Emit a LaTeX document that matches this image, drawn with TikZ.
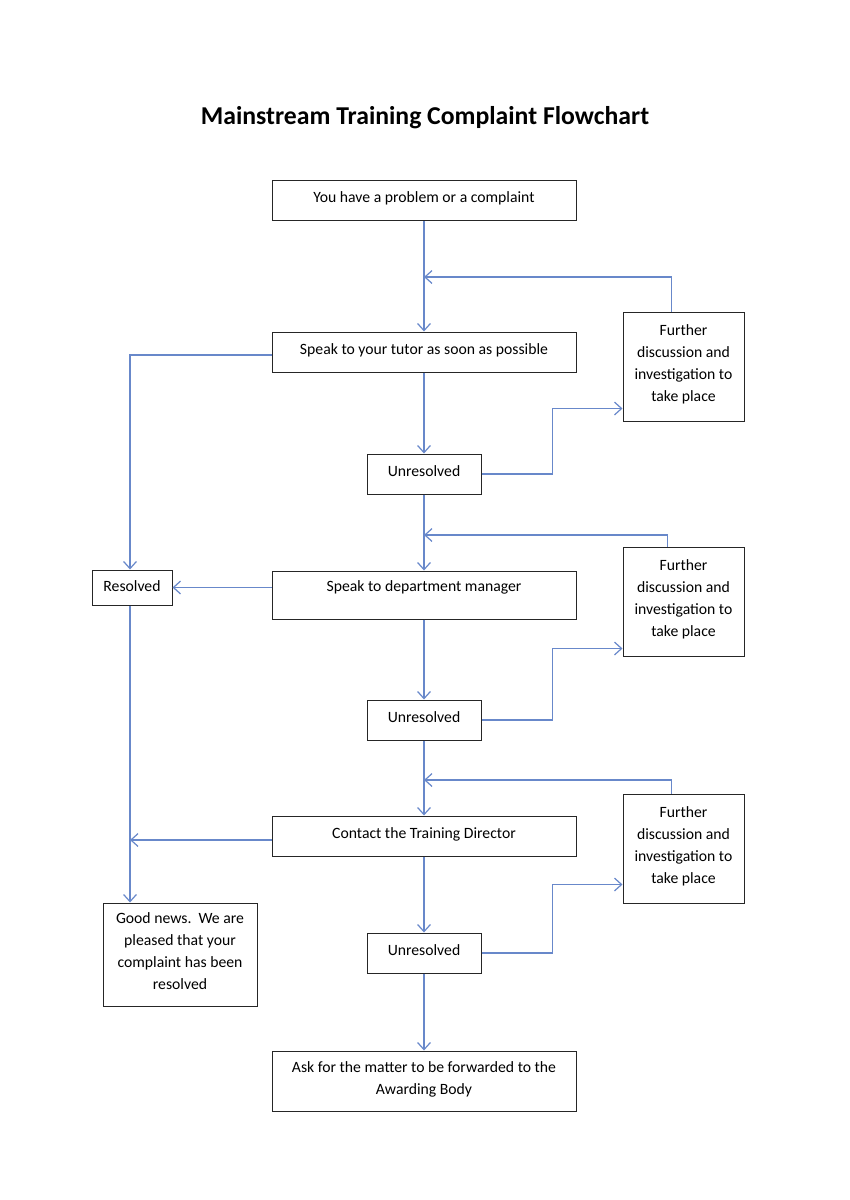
\documentclass[tikz,border=0pt]{standalone}
\usepackage{fontspec}
\setmainfont{Carlito}
\usetikzlibrary{arrows.meta}
\usetikzlibrary{positioning}
\definecolor{flowblue}{RGB}{104,136,202}
\tikzset{box/.style = {draw = black!85, line width = 0.7pt, align = center, inner sep = 0, text depth = 4.5pt, font = \fontsize{11}{15.4}\selectfont}}
\tikzset{wide/.style = {box, minimum width = 212.8pt, minimum height = 28pt}}
\tikzset{small/.style = {box, minimum width = 79.8pt, minimum height = 28pt}}
\tikzset{further/.style = {box, minimum width = 84.7pt, minimum height = 76.3pt}}
\tikzset{link/.style = {draw = flowblue, line width = 0.85pt, -{Straight Barb[length = 5pt, width = 9pt]}}}

\begin{document}
\begin{tikzpicture}[x = 0.7pt, y = -0.7pt]
    \useasboundingbox (0, 0) rectangle (849, 1200);
    \node (title) at (425, 118) {\fontsize{18}{21}\selectfont\bfseries Mainstream Training Complaint Flowchart};

    % main column
    \node [wide] (start) at (424, 200.5) {You have a problem or a complaint};
    \node [wide] (tutor) at (424, 352) {Speak to your tutor as soon as possible};
    \node [small] (unres1) at (424, 474) {Unresolved};
    \node [wide, minimum height = 33.6pt, text depth = 13pt] (dept) at (424, 595) {Speak to department manager};
    \node [small] (unres2) at (424, 720) {Unresolved};
    \node [wide] (director) at (424, 836) {Contact the Training Director};
    \node [small] (unres3) at (424, 953) {Unresolved};
    \node [wide, minimum height = 42pt] (awarding) at (424, 1081) {Ask for the matter to be forwarded to the\\Awarding Body};

    % right column
    \node [further] (further1) at (683.5, 366.5) {Further\\discussion and\\investigation to\\take place};
    \node [further] (further2) at (683.5, 601.5) {Further\\discussion and\\investigation to\\take place};
    \node [further] (further3) at (683.5, 848.5) {Further\\discussion and\\investigation to\\take place};

    % left column
    \node [box, minimum width = 56pt, minimum height = 24.5pt, text depth = 1.5pt] (resolved) at (132, 587.5) {Resolved};
    \node [box, minimum width = 107.8pt, minimum height = 72.1pt] (goodnews) at (180, 954.5) {Good news.\ \ We are\\pleased that your\\complaint has been\\resolved};

    \coordinate (back1) at (424, 277);
    \coordinate (back2) at (424, 535);
    \coordinate (back3) at (424, 780);

    % down the middle
    \draw [link] (start) -- (tutor);
    \draw [link] (tutor) -- (unres1);
    \draw [link] (unres1) -- (dept);
    \draw [link] (dept) -- (unres2);
    \draw [link] (unres2) -- (director);
    \draw [link] (director) -- (unres3);
    \draw [link] (unres3) -- (awarding);

    % out to further discussion and back
    \draw [link] (unres1.east) -- ++(71, 0) |- ([yshift = 9.1pt] further1.south west);
    \draw [link] (unres2.east) -- ++(71, 0) |- ([yshift = 5.6pt] further2.south west);
    \draw [link] (unres3.east) -- ++(71, 0) |- ([yshift = 13.3pt] further3.south west);
    \draw [link] ([xshift = -8.4pt] further1.north) |- (back1);
    \draw [link] ([xshift = -11.2pt] further2.north) |- (back2);
    \draw [link] ([xshift = -8.4pt] further3.north) |- (back3);

    % resolved branch
    \draw [link] ([yshift = -2.1pt] tutor.west) -| ([xshift = -1.4pt] resolved.north);
    \draw [link] (dept.west |- resolved.east) -- (resolved.east);
    \draw [link] ([xshift = -1.4pt] resolved.south) -- ([xshift = -1.4pt] resolved.south |- goodnews.north);
    \draw [link] ([yshift = -2.8pt] director.west) -- ([yshift = -2.8pt, xshift = -1.4pt] director.west -| resolved.south);
\end{tikzpicture}
\end{document}
